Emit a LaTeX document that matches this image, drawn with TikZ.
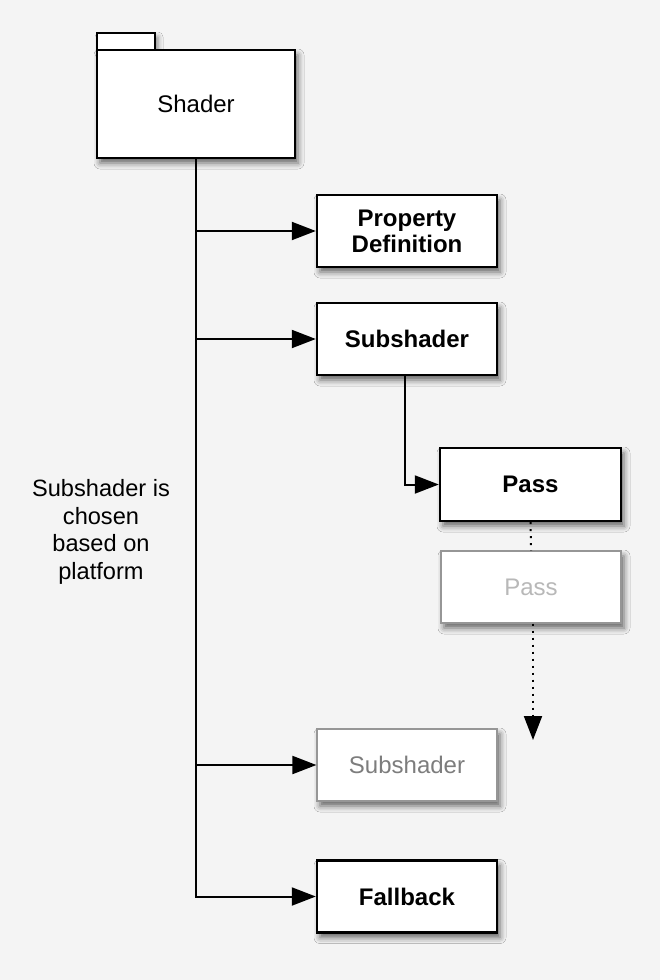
\documentclass[tikz,border=0pt]{standalone}
\usepackage{fontspec}
\setmainfont{Liberation Sans}
\usetikzlibrary{arrows.meta,shadows.blur}
\definecolor{bg}{RGB}{244,244,244}
\definecolor{fadeline}{RGB}{150,150,150}
\definecolor{fadetext}{RGB}{125,125,125}
\tikzset{
  boxbase/.style={draw=black, line width=2.4pt, fill=white, minimum width=180pt, minimum height=72pt,
    align=center, inner sep=0pt, font=\fontsize{24}{27}\selectfont\bfseries,
    blur shadow={shadow xshift=3pt, shadow yshift=-5pt, shadow blur radius=6pt, shadow opacity=60}},
  fadedbox/.style={boxbase, draw=fadeline, line width=1.2pt, text=fadetext, font=\fontsize{24}{27}\selectfont},
  conn/.style={line width=2pt, -{Triangle[length=24pt,width=18pt]}},
  dotconn/.style={line width=2pt, dash pattern=on 2pt off 5pt},
}
\begin{document}
\begin{tikzpicture}[x=1pt,y=-1pt]
\fill[bg] (0,0) rectangle (660,980);
\useasboundingbox (0,0) rectangle (660,980);
% shader package
\node[draw=black, line width=2.4pt, fill=white, minimum width=58pt, minimum height=17pt, inner sep=0pt,
  blur shadow={shadow xshift=3pt, shadow yshift=-4pt, shadow blur radius=5pt, shadow opacity=45}] (tab) at (126,41.5) {};
\node[boxbase, minimum width=198pt, minimum height=108pt, font=\fontsize{24}{27}\selectfont] (shader) at (196,104) {Shader};
\node[boxbase] (prop) at (407,231) {Property\\[-1pt]Definition};
\node[boxbase] (sub1) at (407,339) {Subshader};
\node[boxbase, minimum width=181pt, minimum height=73pt] (pass1) at (530.5,484.5) {Pass};
\node[fadedbox, text=fadetext!55] (pass2) at (531,587) {Pass};
\node[fadedbox] (sub2) at (407,765) {Subshader};
\node[boxbase] (fall) at (407,896.5) {Fallback};
\node[align=center, font=\fontsize{23.6}{27.5}\selectfont] (note) at (101,532) {Subshader is\\chosen\\based on\\platform};
\coordinate (dotmid) at (533,716);
\coordinate (dotend) at (533,740);
% connectors
\draw[conn] (shader.south) |- (prop.west);
\draw[conn] (shader.south) |- (sub1.west);
\draw[conn] (shader.south) |- (sub2.west);
\draw[conn] (shader.south) |- (fall.west);
\draw[conn] ([xshift=-2pt]sub1.south) |- (pass1.west);
\draw[dotconn] (pass1.south) -- (pass2.north);
\draw[dotconn] ([xshift=2pt]pass2.south) -- (dotmid);
\draw[conn] (dotmid) -- (dotend);
\end{tikzpicture}
\end{document}
